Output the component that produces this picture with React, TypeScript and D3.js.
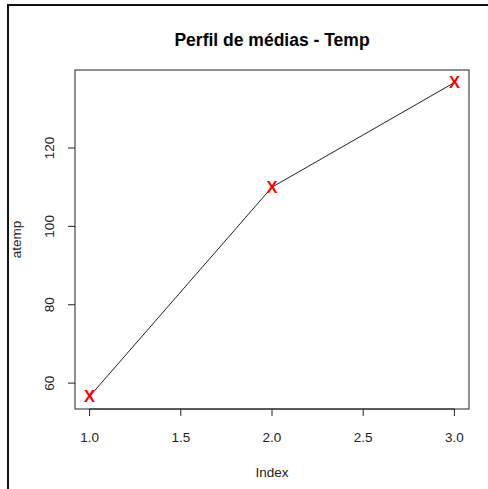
import React from "react";
import * as d3 from "d3";

const indexValues = [1, 2, 3];
const atempValues = [56.6, 110.0, 136.7];
const xTicks = [1.0, 1.5, 2.0, 2.5, 3.0];
const yTicks = [60, 80, 100, 120];
const titleText = "Perfil de médias - Temp";
const xLabel = "Index";
const yLabel = "atemp";

const W = 488;
const H = 489;
const plot = { left: 75, right: 469, top: 70, bottom: 409 };
const font = "'Liberation Sans', Arial, sans-serif";

export default function App() {
  // R-style 4% padding around the data range
  const [xmin, xmax] = d3.extent(indexValues) as [number, number];
  const [ymin, ymax] = d3.extent(atempValues) as [number, number];
  const xp = (xmax - xmin) * 0.04;
  const yp = (ymax - ymin) * 0.04;
  const x = d3.scaleLinear().domain([xmin - xp, xmax + xp]).range([plot.left, plot.right]);
  const y = d3.scaleLinear().domain([ymin - yp, ymax + yp]).range([plot.bottom, plot.top]);

  const pts = indexValues.map((v, i) => [x(v), y(atempValues[i])] as [number, number]);
  const path = d3.line()(pts) || "";
  const cx = (plot.left + plot.right) / 2;
  const cy = (plot.top + plot.bottom) / 2;

  return (
    <svg
      width={W}
      height={H}
      style={{ position: "absolute", left: 0, top: 0, background: "#fff" }}
      fontFamily={font}
    >
      <rect x={0} y={0} width={W} height={H} fill="#fff" />
      {/* outer device frame */}
      <path d={`M8,${H + 5} L8,5 L${W + 5},5`} fill="none" stroke="#111" strokeWidth={2} />

      <text x={cx} y={46} textAnchor="middle" fontSize={17.5} fontWeight="bold" fill="#000">
        {titleText}
      </text>

      <rect
        x={plot.left}
        y={plot.top}
        width={plot.right - plot.left}
        height={plot.bottom - plot.top}
        fill="none"
        stroke="#222"
        strokeWidth={1}
      />

      {/* x axis */}
      <line x1={x(xTicks[0])} x2={x(xTicks[xTicks.length - 1])} y1={plot.bottom} y2={plot.bottom} stroke="#222" />
      {xTicks.map((t) => (
        <g key={"x" + t}>
          <line x1={x(t)} x2={x(t)} y1={plot.bottom} y2={plot.bottom + 7} stroke="#222" />
          <text x={x(t)} y={441.5} textAnchor="middle" fontSize={13.5} fill="#222">
            {t.toFixed(1)}
          </text>
        </g>
      ))}
      <text x={cx} y={476.5} textAnchor="middle" fontSize={13.5} fill="#222">
        {xLabel}
      </text>

      {/* y axis */}
      {yTicks.map((t) => (
        <g key={"y" + t}>
          <line x1={plot.left - 7} x2={plot.left} y1={y(t)} y2={y(t)} stroke="#222" />
          <text
            transform={`translate(54,${y(t)}) rotate(-90)`}
            textAnchor="middle"
            fontSize={13.5}
            fill="#222"
          >
            {t}
          </text>
        </g>
      ))}
      <text transform={`translate(21,${cy}) rotate(-90)`} textAnchor="middle" fontSize={13.5} fill="#222">
        {yLabel}
      </text>

      <path d={path} fill="none" stroke="#222" strokeWidth={1} />
      {pts.map(([px, py], i) => (
        <text
          key={"p" + i}
          x={px}
          y={py}
          dy="0.36em"
          textAnchor="middle"
          fontSize={16.5}
          fontWeight="bold"
          fill="#ff0000"
        >
          X
        </text>
      ))}
    </svg>
  );
}
